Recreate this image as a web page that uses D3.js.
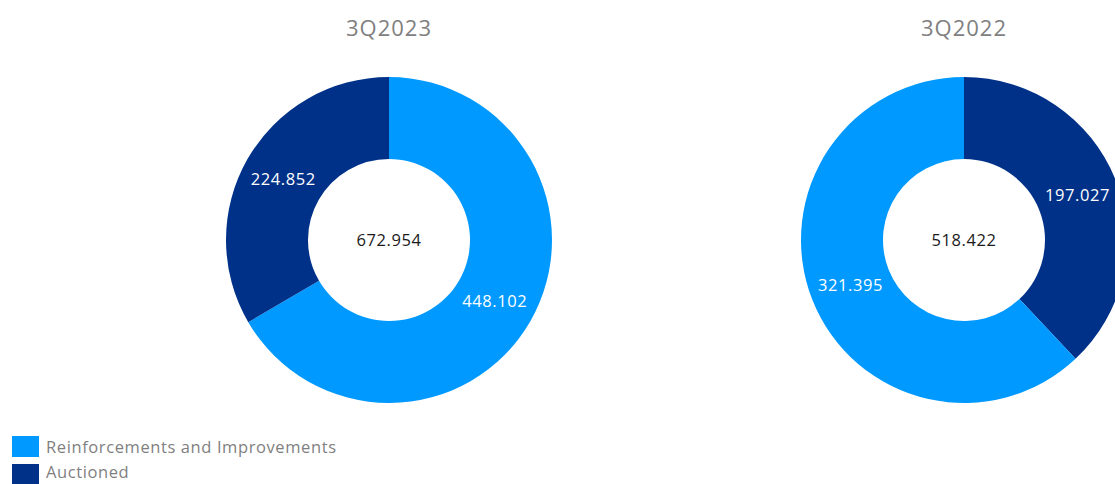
<!DOCTYPE html>
<html>
<head>
<meta charset="utf-8">
<script src="https://cdn.jsdelivr.net/npm/d3@7"></script>
<style>
  html, body { margin: 0; padding: 0; background: #fff; overflow: hidden; }
  svg { display: block; font-family: "Open Sans", "Noto Sans", sans-serif; }
</style>
</head>
<body>
<svg id="chart" width="1115" height="484"></svg>
<script>
// Categories and per-period values
const categories = ["Reinforcements and Improvements", "Auctioned"];
const periods = ["3Q2023", "3Q2022"];
const reinforcements = [448.102, 321.395];
const auctioned = [224.852, 197.027];
const totals = [672.954, 518.422];
// Order in which slices are laid out clockwise from 12 o'clock, per period
const sliceOrder = [
  ["Reinforcements and Improvements", "Auctioned"],
  ["Auctioned", "Reinforcements and Improvements"]
];

const colors = d3.scaleOrdinal()
  .domain(categories)
  .range(["#0099FF", "#003189"]);

const svg = d3.select("#chart");

const centerX = d3.scalePoint().domain(periods).range([389, 964]);
const cy = 240;
const outerR = 163, innerR = 81;
const labelR = (outerR + innerR) / 2;

const fmt = d3.format(".3f");

const pie = d3.pie().sort(null).value(d => d.value);
const arc = d3.arc().innerRadius(innerR).outerRadius(outerR);
const labelArc = d3.arc().innerRadius(labelR).outerRadius(labelR);

periods.forEach((p, i) => {
  const values = {
    "Reinforcements and Improvements": reinforcements[i],
    "Auctioned": auctioned[i]
  };
  const data = sliceOrder[i].map(k => ({ key: k, value: values[k] }));
  const arcs = pie(data);
  const g = svg.append("g").attr("transform", `translate(${centerX(p)},${cy})`);

  g.selectAll("path.slice")
    .data(arcs)
    .join("path")
    .attr("class", "slice")
    .attr("d", arc)
    .attr("fill", d => colors(d.data.key));

  g.selectAll("text.val")
    .data(arcs)
    .join("text")
    .attr("class", "val")
    .attr("transform", d => `translate(${labelArc.centroid(d)})`)
    .attr("text-anchor", "middle")
    .attr("dy", "0.35em")
    .attr("fill", "#ffffff")
    .style("font-size", "16.5px")
    .style("letter-spacing", "0.6px")
    .text(d => fmt(d.data.value));

  g.append("text")
    .attr("text-anchor", "middle")
    .attr("dy", "0.35em")
    .attr("fill", "#1a1a1a")
    .style("font-size", "16.5px")
    .style("letter-spacing", "0.6px")
    .text(fmt(totals[i]));

  svg.append("text")
    .attr("x", centerX(p))
    .attr("y", 28)
    .attr("text-anchor", "middle")
    .attr("dy", "0.35em")
    .attr("fill", "#808080")
    .style("font-size", "22px")
    .style("letter-spacing", "1px")
    .text(p);
});

// Legend
const legend = svg.append("g").attr("transform", "translate(12,436)");
const item = legend.selectAll("g")
  .data(categories)
  .join("g")
  .attr("transform", (d, i) => `translate(0,${i * 28})`);
item.append("rect")
  .attr("width", 27)
  .attr("height", 21)
  .attr("fill", d => colors(d));
item.append("text")
  .attr("x", 34)
  .attr("y", (d, i) => 11 - i * 3)
  .attr("dy", "0.35em")
  .attr("fill", "#7f7f7f")
  .style("font-size", "16.5px")
  .style("letter-spacing", "0.6px")
  .text(d => d);
</script>
</body>
</html>
